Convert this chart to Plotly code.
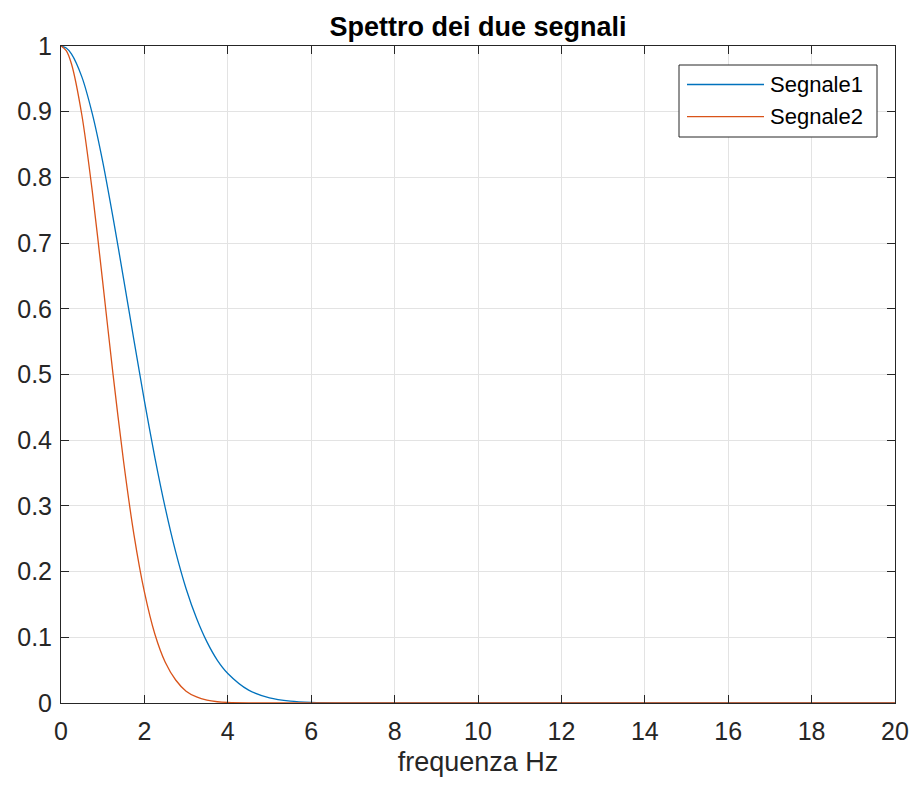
import plotly.graph_objects as go

# Frequency grid (Hz) and spectrum magnitudes of the two signals
freq = [0, 0.125, 0.25, 0.5, 0.75, 1.0, 1.25, 1.5, 1.75, 2.0, 2.25, 2.5, 2.75, 3.0,
        3.25, 3.5, 3.75, 4.0, 4.5, 5.0, 5.5, 6.0, 7.0, 8.0, 10.0, 12.0, 14.0,
        16.0, 18.0, 20.0]
segnale1 = [1.0, 0.997, 0.988, 0.953, 0.897, 0.824, 0.738, 0.646, 0.552, 0.460, 0.374,
            0.297, 0.230, 0.174, 0.129, 0.093, 0.065, 0.045, 0.0196, 0.0078,
            0.0028, 0.0009, 0.0001, 0.0, 0.0, 0.0, 0.0, 0.0, 0.0, 0.0]
segnale2 = [1.0, 0.993, 0.973, 0.895, 0.779, 0.641, 0.499, 0.368, 0.256, 0.169, 0.105,
            0.062, 0.035, 0.018, 0.0092, 0.0043, 0.0019, 0.0008, 0.0001, 0.0,
            0.0, 0.0, 0.0, 0.0, 0.0, 0.0, 0.0, 0.0, 0.0, 0.0]
series_names = ["Segnale1", "Segnale2"]
series_colors = ["#0072BD", "#D95319"]

x_ticks = list(range(0, 21, 2))
y_ticks = [round(0.1 * i, 1) for i in range(11)]
y_tick_text = ["0" if v == 0 else ("1" if v == 1 else f"{v:g}") for v in y_ticks]

W, H = 913, 785
L, R, T, B = 61, 18, 46, 82
PW, PH = W - L - R, H - T - B

def px_x(px):
    return (px - L) / PW

def px_y(py):
    return (H - B - py) / PH

AXC = "#262626"
FONT = "Liberation Sans, Arial, Helvetica, sans-serif"

fig = go.Figure()
for name, ys, col in zip(series_names, [segnale1, segnale2], series_colors):
    fig.add_trace(go.Scatter(
        x=freq, y=ys, mode="lines", name=name,
        line=dict(color=col, width=1.3, shape="spline", smoothing=0.8),
        showlegend=False,
    ))

axis_common = dict(
    showline=True, linecolor=AXC, linewidth=1, mirror="ticks",
    ticks="inside", ticklen=8, tickcolor=AXC, tickwidth=1,
    showgrid=True, gridcolor="#e3e3e3", gridwidth=1, zeroline=False,
    tickfont=dict(family=FONT, size=25, color=AXC),
    automargin=False,
)

fig.update_xaxes(
    range=[0, 20], tickvals=x_ticks, ticktext=[str(v) for v in x_ticks],
    ticklabelstandoff=6,
    title=dict(text="frequenza Hz", font=dict(family=FONT, size=27, color=AXC),
               standoff=8),
    **axis_common,
)
fig.update_yaxes(
    range=[0, 1], tickvals=y_ticks, ticktext=y_tick_text,
    ticklabelstandoff=3,
    **axis_common,
)

# Legend box drawn as shapes and text
shapes = [dict(type="rect", xref="paper", yref="paper",
               x0=px_x(679), x1=px_x(877), y0=px_y(137), y1=px_y(65),
               line=dict(color=AXC, width=1), fillcolor="white", layer="above")]
annotations = []
for name, col, py in zip(series_names, series_colors, [84.5, 116.7]):
    shapes.append(dict(type="line", xref="paper", yref="paper",
                       x0=px_x(687), x1=px_x(764), y0=px_y(py), y1=px_y(py),
                       line=dict(color=col, width=1.3), layer="above"))
    annotations.append(dict(xref="paper", yref="paper", x=px_x(768), y=px_y(py),
                            xanchor="left", yanchor="middle", showarrow=False,
                            text=name, font=dict(family=FONT, size=22, color="black")))

fig.update_layout(
    width=W, height=H,
    margin=dict(l=L, r=R, t=T, b=B, autoexpand=False),
    paper_bgcolor="white", plot_bgcolor="white",
    title=dict(text="<b>Spettro dei due segnali</b>", x=0.5, xref="paper",
               y=1 - 27 / H, yref="container", xanchor="center", yanchor="middle",
               font=dict(family=FONT, size=27, color="black"), automargin=False),
    shapes=shapes, annotations=annotations,
)

fig.write_html("out.html")
